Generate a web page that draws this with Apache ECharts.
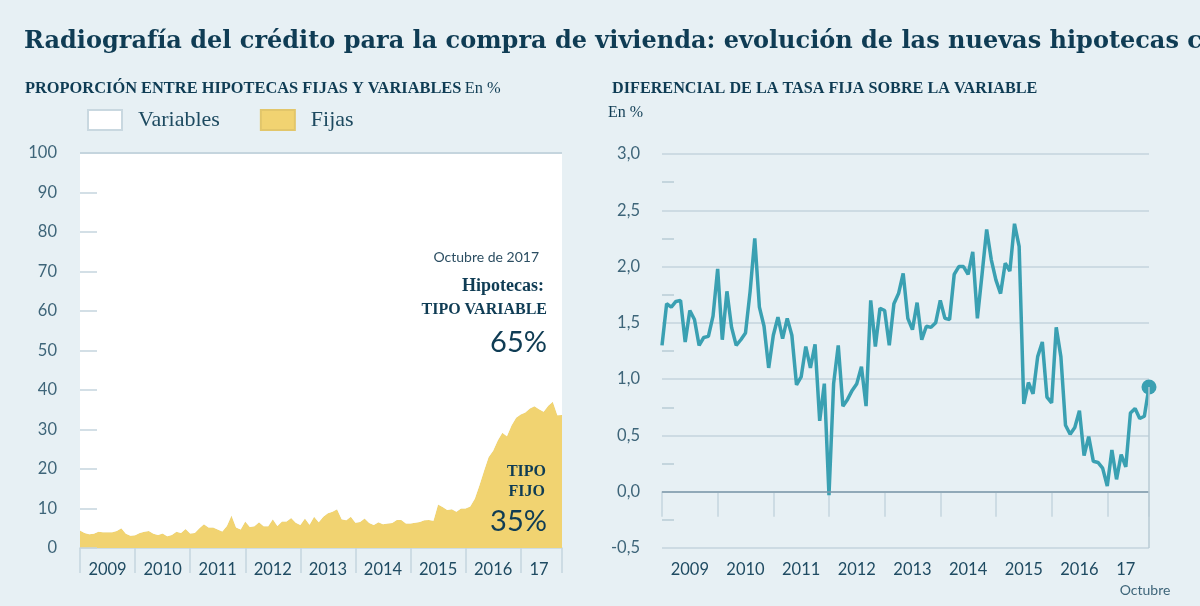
<!DOCTYPE html>
<html><head><meta charset="utf-8">
<script src="https://cdn.jsdelivr.net/npm/echarts@6/dist/echarts.min.js"></script>
<style>html,body{margin:0;padding:0;background:#e7f0f4;overflow:hidden}#c{width:1200px;height:606px}</style>
</head><body><div id="c"></div><script>
// Monthly categories: January 2009 to October 2017
const months = [];
for (let y = 2009; y <= 2017; y++) {
  for (let m = 1; m <= 12; m++) {
    if (y === 2017 && m > 10) break;
    months.push(y + '-' + String(m).padStart(2, '0'));
  }
}
const yearLabels = ['2009', '2010', '2011', '2012', '2013', '2014', '2015', '2016', '17'];

// Share of new fixed-rate mortgages (%)
const fijas = [
  4.4, 3.8, 3.5, 3.6, 4.1, 4.0, 4.0, 4.0, 4.3, 5.0, 3.6, 3.1,
  3.2, 3.8, 4.1, 4.3, 3.6, 3.3, 3.7, 3.0, 3.3, 4.1, 3.8, 4.8,
  3.7, 3.8, 5.0, 6.0, 5.2, 5.2, 4.7, 4.2, 5.6, 8.2, 5.2, 4.7,
  6.7, 5.3, 5.5, 6.5, 5.5, 5.5, 7.3, 5.6, 6.7, 6.7, 7.6, 6.4,
  5.8, 7.5, 5.9, 7.9, 6.5, 7.9, 8.8, 9.2, 9.8, 7.3, 7.0, 7.9,
  6.4, 6.6, 7.5, 6.3, 5.8, 6.5, 6.0, 6.2, 6.3, 7.1, 7.1, 6.2,
  6.2, 6.4, 6.6, 7.0, 7.1, 6.9, 11.0, 10.4, 9.6, 9.8, 9.2, 10.0,
  10.0, 10.5, 12.5, 15.8, 19.5, 23.0, 24.6, 27.2, 29.2, 28.3, 31.0, 33.0,
  33.8, 34.3, 35.3, 35.9, 35.1, 34.5, 36.0, 37.0, 33.6, 33.7
];
// Share of variable-rate mortgages = complement to 100 %
const variables = fijas.map(v => +(100 - v).toFixed(1));

// Spread of fixed rate over variable rate (percentage points)
const diferencial = [
  1.30, 1.67, 1.64, 1.69, 1.70, 1.33, 1.61, 1.53, 1.30, 1.37, 1.38, 1.56,
  1.98, 1.35, 1.78, 1.46, 1.30, 1.35, 1.41, 1.78, 2.25, 1.64, 1.47, 1.10,
  1.39, 1.55, 1.36, 1.54, 1.39, 0.95, 1.02, 1.29, 1.10, 1.31, 0.63, 0.96,
  -0.03, 0.96, 1.30, 0.76, 0.82, 0.90, 0.96, 1.11, 0.76, 1.70, 1.29, 1.63,
  1.61, 1.30, 1.67, 1.76, 1.94, 1.54, 1.44, 1.68, 1.35, 1.47, 1.46, 1.50,
  1.70, 1.54, 1.53, 1.93, 2.00, 2.00, 1.93, 2.13, 1.54, 1.93, 2.33, 2.06,
  1.88, 1.76, 2.03, 1.96, 2.38, 2.18, 0.78, 0.97, 0.87, 1.20, 1.33, 0.84,
  0.79, 1.46, 1.20, 0.59, 0.51, 0.57, 0.72, 0.32, 0.49, 0.27, 0.26, 0.21,
  0.05, 0.37, 0.11, 0.33, 0.22, 0.70, 0.74, 0.65, 0.67, 0.93
];

const last = months.length - 1;
const DARK = '#0f3c54';
const GRID = '#c5d5de';
const LABEL = '#3e6579';
const SERIF = '"Liberation Serif", serif';
const TSERIF = '"DejaVu Serif", serif';
const SANS = 'Lato, "Open Sans", sans-serif';

function xAxisCfg(gi) {
  return {
    type: 'category', gridIndex: gi, data: months, boundaryGap: false,
    axisLine: { show: true, lineStyle: { color: GRID, width: 1.5 } },
    axisTick: { show: true, interval: i => i % 12 === 0 || i === last, length: 25, lineStyle: { color: GRID, width: 1.5 } },
    axisLabel: {
      interval: i => (i % 12 === 6 && i < 96) || i === 100,
      formatter: (v, i) => yearLabels[Math.floor(i / 12)],
      margin: 13, fontSize: 16.5, color: '#1f4b62', fontFamily: SANS
    },
    splitLine: { show: false }
  };
}

const chart = echarts.init(document.getElementById('c'));
chart.setOption({
  animation: false,
  backgroundColor: '#e7f0f4',
  grid: [
    { left: 80, right: 638, top: 153, bottom: 58 },
    { left: 662, right: 51, top: 154, bottom: 58 }
  ],
  legend: {
    data: ['Variables', 'Fijas'], left: 87, top: 109, padding: 0,
    icon: 'rect', itemWidth: 34, itemHeight: 20, itemGap: 40,
    textStyle: { fontFamily: SERIF, fontSize: 22, color: '#1d4a60', padding: [0, 0, 0, 11] }
  },
  xAxis: [xAxisCfg(0), xAxisCfg(1)],
  yAxis: [
    {
      type: 'value', gridIndex: 0, min: 0, max: 100, interval: 10, z: 5,
      axisLine: { show: false },
      axisTick: { show: true, inside: true, length: 17, lineStyle: { color: GRID, width: 1.5 } },
      splitLine: { show: false },
      axisLabel: { margin: 23, fontSize: 16.5, color: LABEL, fontFamily: SANS }
    },
    {
      type: 'value', gridIndex: 1, min: -0.5, max: 3, interval: 0.5,
      axisLine: { show: false },
      axisTick: { show: false, inside: true },
      minorTick: { show: true, splitNumber: 2, length: 12, lineStyle: { color: '#b9cbd5', width: 1.5 } },
      splitLine: { show: true, lineStyle: { color: GRID, width: 1.5 } },
      axisLabel: {
        margin: 22, fontSize: 16.5, color: LABEL, fontFamily: SANS,
        formatter: v => v.toFixed(1).replace('.', ',')
      }
    }
  ],
  series: [
    {
      name: 'Fijas', type: 'line', xAxisIndex: 0, yAxisIndex: 0, stack: 'prop',
      data: fijas, symbol: 'none', lineStyle: { width: 0 },
      itemStyle: { color: '#f1d371', borderColor: '#e2c66a', borderWidth: 1 },
      areaStyle: { color: '#f1d371', opacity: 1 }
    },
    {
      name: 'Variables', type: 'line', xAxisIndex: 0, yAxisIndex: 0, stack: 'prop',
      data: variables, symbol: 'none', lineStyle: { width: 0 },
      itemStyle: { color: '#ffffff', borderColor: '#c9d8e0', borderWidth: 1 },
      areaStyle: { color: '#ffffff', opacity: 1 },
      markLine: {
        silent: true, symbol: 'none', label: { show: false },
        lineStyle: { color: GRID, width: 2, type: 'solid' },
        data: [{ yAxis: 100 }]
      }
    },
    {
      name: 'Diferencial', type: 'line', xAxisIndex: 1, yAxisIndex: 1,
      data: diferencial, showSymbol: true, showAllSymbol: true, symbol: 'circle',
      symbolSize: (v, p) => (p.dataIndex === last ? 15 : 0),
      itemStyle: { color: '#3aa0b2' },
      lineStyle: { color: '#3aa0b2', width: 3.5 },
      z: 3,
      markLine: {
        silent: true, symbol: 'none', label: { show: false },
        data: [
          { yAxis: 0, lineStyle: { color: '#7f9aab', width: 1.5, type: 'solid' } },
          [
            { coord: [months[last], diferencial[last]], lineStyle: { color: '#b9cbd5', width: 1.5, type: 'solid' } },
            { coord: [months[last], -0.5] }
          ]
        ]
      }
    }
  ],
  graphic: [
    { type: 'text', x: 24, y: 42, z: 100, style: { text: 'Radiografía del crédito para la compra de vivienda: evolución de las nuevas hipotecas concedidas', font: 'bold 24px ' + TSERIF, fill: DARK, textVerticalAlign: 'middle' } },
    { type: 'text', x: 25, y: 89, z: 100, style: {
        text: '{b|PROPORCIÓN ENTRE HIPOTECAS FIJAS Y VARIABLES} {r|En %}', textVerticalAlign: 'middle',
        rich: { b: { font: 'bold 16.4px ' + SERIF, fill: DARK }, r: { font: '16.4px ' + SERIF, fill: DARK } } } },
    { type: 'text', x: 612, y: 89, z: 100, style: { text: 'DIFERENCIAL DE LA TASA FIJA SOBRE LA VARIABLE', font: 'bold 16.2px ' + SERIF, fill: DARK, textVerticalAlign: 'middle' } },
    { type: 'text', x: 608, y: 113, z: 100, style: { text: 'En %', font: '16px ' + SERIF, fill: DARK, textVerticalAlign: 'middle' } },
    { type: 'text', x: 539, y: 257, z: 100, style: { text: 'Octubre de 2017', font: '14px ' + SANS, fill: '#2c4e62', textAlign: 'right', textVerticalAlign: 'middle' } },
    { type: 'text', x: 544, y: 286, z: 100, style: { text: 'Hipotecas:', font: 'bold 18px ' + SERIF, fill: DARK, textAlign: 'right', textVerticalAlign: 'middle' } },
    { type: 'text', x: 547, y: 310, z: 100, style: { text: 'TIPO VARIABLE', font: 'bold 16px ' + SERIF, fill: DARK, textAlign: 'right', textVerticalAlign: 'middle' } },
    { type: 'text', x: 547, y: 343, z: 100, style: { text: '65%', font: '29px ' + SANS, fill: DARK, textAlign: 'right', textVerticalAlign: 'middle' } },
    { type: 'text', x: 546, y: 472, z: 100, style: { text: 'TIPO', font: 'bold 16px ' + SERIF, fill: DARK, textAlign: 'right', textVerticalAlign: 'middle' } },
    { type: 'text', x: 545, y: 492, z: 100, style: { text: 'FIJO', font: 'bold 16px ' + SERIF, fill: DARK, textAlign: 'right', textVerticalAlign: 'middle' } },
    { type: 'text', x: 547, y: 522, z: 100, style: { text: '35%', font: '29px ' + SANS, fill: DARK, textAlign: 'right', textVerticalAlign: 'middle' } },
    { type: 'text', x: 1145, y: 590, z: 100, style: { text: 'Octubre', font: '14px ' + SANS, fill: LABEL, textAlign: 'center', textVerticalAlign: 'middle' } }
  ]
});
</script></body></html>
